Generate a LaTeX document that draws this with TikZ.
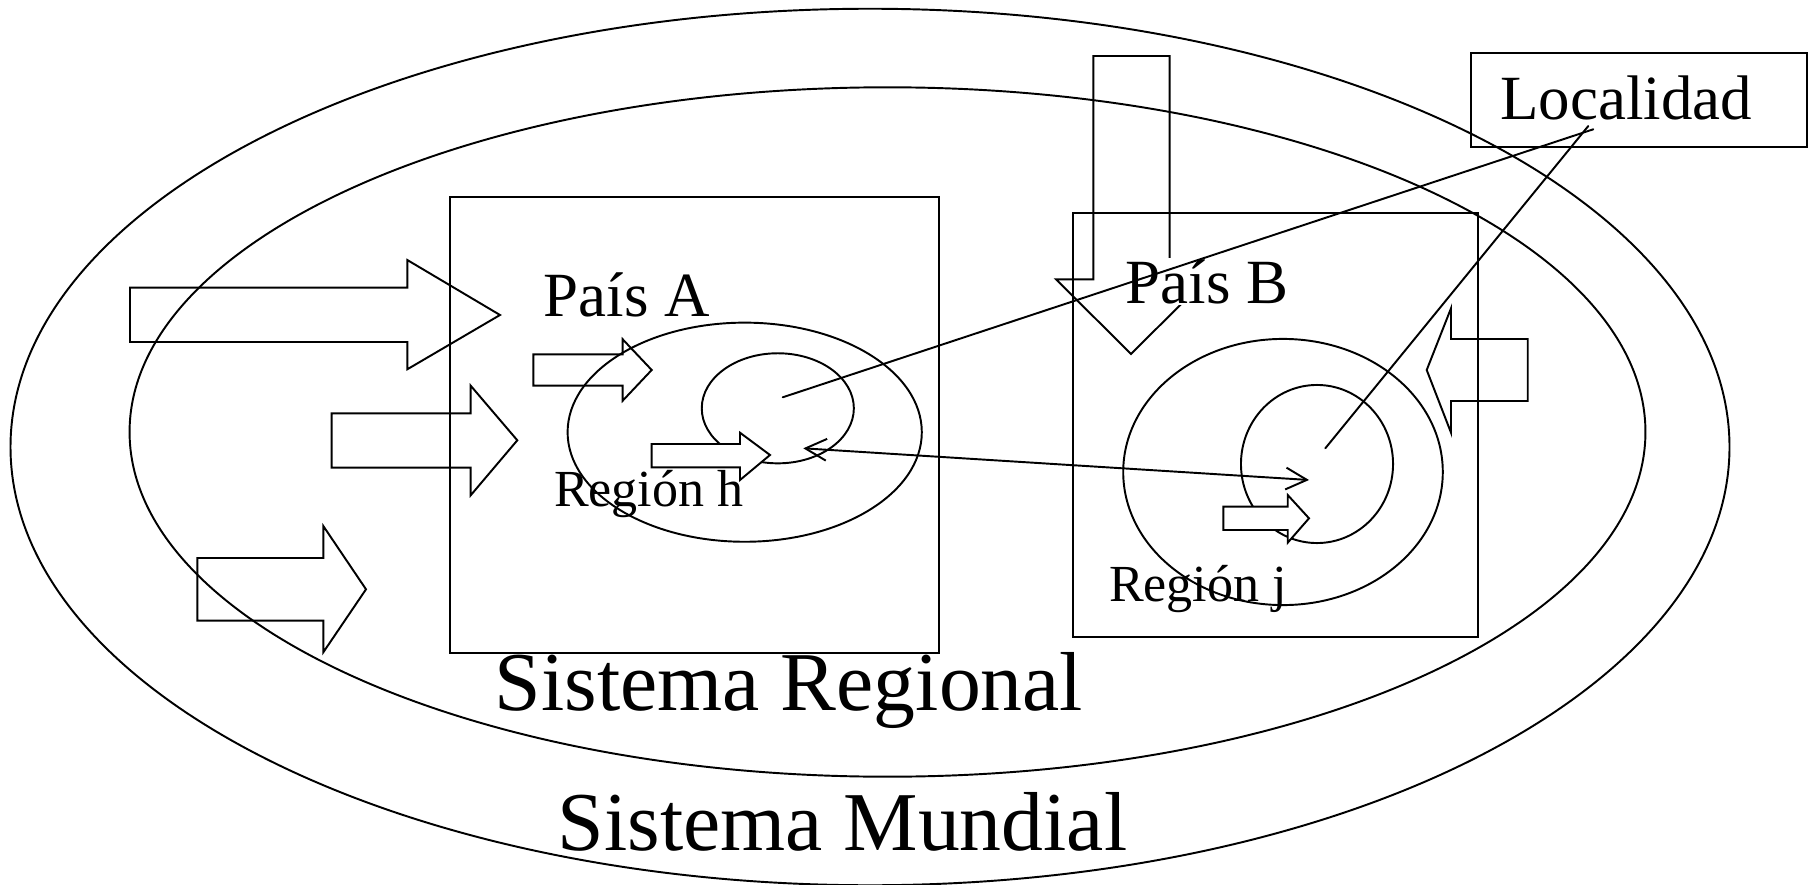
\documentclass[tikz,border=0pt]{standalone}
\usepackage{fontspec}
\setmainfont{Liberation Serif}
\usetikzlibrary{shapes.geometric,arrows.meta}
\begin{document}
\begin{tikzpicture}
    [x=0.01cm,y=-0.01cm,line width=0.55pt,
    zone/.style={shape=ellipse,draw=black,inner sep=0pt},
    countrybox/.style={shape=rectangle,draw=black,inner sep=0pt},
    blockarrow/.style={draw=black,line join=miter},
    bigtext/.style={font=\fontsize{23.8}{28}\selectfont,anchor=base,inner sep=0pt},
    midtext/.style={font=\fontsize{17.9}{21}\selectfont,anchor=base,inner sep=0pt},
    smalltext/.style={font=\fontsize{14.8}{18}\selectfont,anchor=base,inner sep=0pt},
    edge/.style={line cap=round},
    arc/.style={<->,>={Straight Barb[length=6pt,width=6.2pt]}}]

    \useasboundingbox [fill=white] (0,0) rectangle (1809,885);

    % systems
    \node (mundial) [zone,minimum width=17.18cm,minimum height=8.76cm] at (870,447) {};
    \node (regional) [zone,minimum width=15.15cm,minimum height=6.89cm] at (887.5,432) {};

    % countries
    \node (paisA) [countrybox,minimum width=4.888cm,minimum height=4.555cm] at (694.4,425.3) {};
    \node (paisB) [countrybox,minimum width=4.05cm,minimum height=4.234cm] at (1275.2,425) {};
    \node (locbox) [countrybox,minimum width=3.36cm,minimum height=0.946cm] at (1638.7,100) {};

    % regions and localities
    \node (regh) [zone,minimum width=3.54cm,minimum height=2.19cm] at (744.7,432.2) {};
    \node (loch) [zone,minimum width=1.52cm,minimum height=1.10cm] at (777.8,408.3) {};
    \node (regj) [zone,minimum width=3.194cm,minimum height=2.66cm] at (1283,472) {};
    \node (locj) [zone,minimum width=1.52cm,minimum height=1.58cm] at (1317,464) {};

    % flows
    \draw [blockarrow] (130,287.7) -- (407.3,287.7) -- (407.3,260) -- (500,315) -- (407.3,369.3) -- (407.3,342) -- (130,342) -- cycle;
    \draw [blockarrow] (331.7,413.3) -- (470.7,413.3) -- (470.7,385.7) -- (517.3,440.3) -- (470.7,495.3) -- (470.7,467.7) -- (331.7,467.7) -- cycle;
    \draw [blockarrow] (197.3,558) -- (323.3,558) -- (323.3,526) -- (366,589.3) -- (323.3,652.3) -- (323.3,620.7) -- (197.3,620.7) -- cycle;
    \draw [blockarrow] (533.3,354.3) -- (622.7,354.3) -- (622.7,339.3) -- (651.7,370) -- (622.7,400.7) -- (622.7,385.7) -- (533.3,385.7) -- cycle;
    \draw [blockarrow] (1527.7,339) -- (1451,339) -- (1451,308.3) -- (1426.7,370) -- (1451,432.7) -- (1451,401) -- (1527.7,401) -- cycle;
    \draw [blockarrow] (1093.3,56) -- (1169.7,56) -- (1169.7,279.3) -- (1206,279.3) -- (1131,354) -- (1056,279.3) -- (1093.3,279.3) -- cycle;
    \draw [blockarrow,fill=white] (651.7,444) -- (740,444) -- (740,432.7) -- (770,455) -- (740,480) -- (740,467.3) -- (651.7,467.3) -- cycle;
    \draw [blockarrow,fill=white] (1223.3,506.7) -- (1287.7,506.7) -- (1287.7,495) -- (1309,518.3) -- (1287.7,542.7) -- (1287.7,530) -- (1223.3,530) -- cycle;

    % labels
    \node (tmundial) [bigtext] at (842.5,850) {Sistema Mundial};
    \node (tregional) [bigtext] at (789,710) {Sistema Regional};
    \node (tpaisA) [midtext] at (627,316) {País A};
    \node (tpaisB) [midtext,fill=white,inner sep=0.4pt] at (1207,303.3) {País B};
    \node (tloc) [midtext] at (1626,119.3) {Localidad};
    \node (tregh) [smalltext] at (648.8,506.7) {Región h};
    \node (tregj) [smalltext] at (1198,601.7) {Región j};

    \coordinate (loca) at (1593.3,129.3);
    \coordinate (locb) at (1588.3,126);
    \coordinate (coreh) at (782.7,397.3);
    \coordinate (corej) at (1325.3,448.3);
    \coordinate (linkh) at (803.3,448.3);
    \coordinate (linkj) at (1309,480);

    \draw [edge] (loca) -- (coreh);
    \draw [edge] (locb) -- (corej);
    \draw [arc] (linkh) -- (linkj);

\end{tikzpicture}
\end{document}
